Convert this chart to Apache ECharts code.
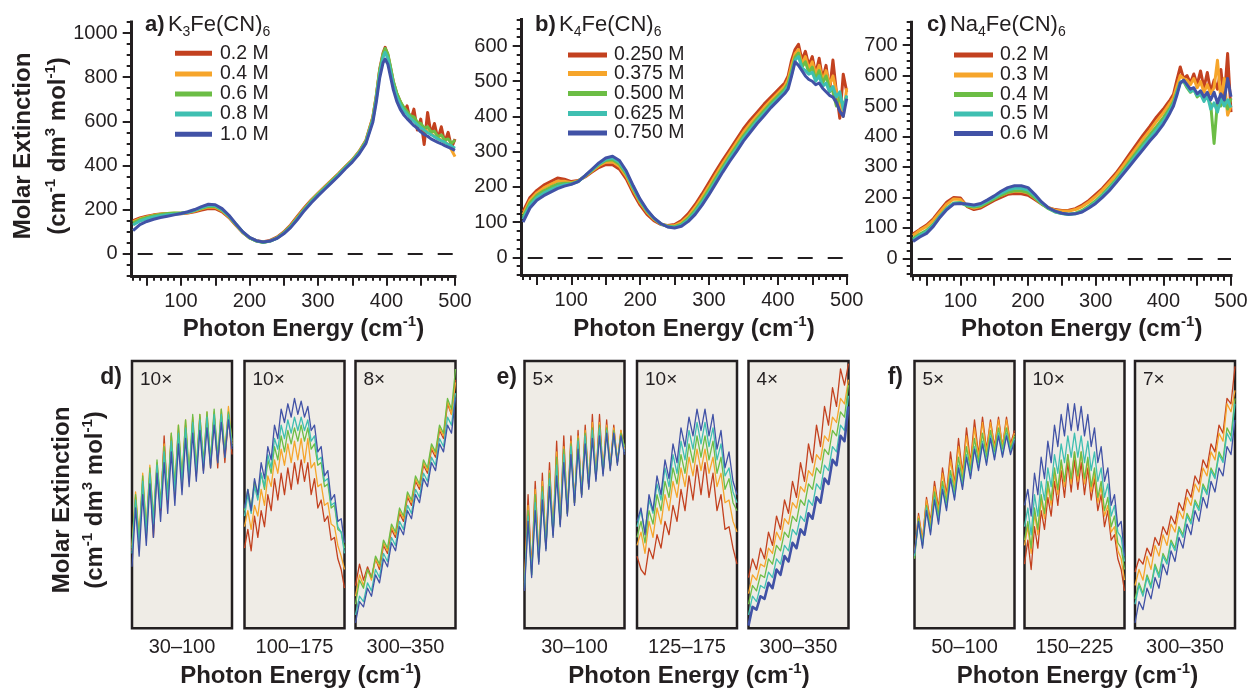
<!DOCTYPE html>
<html>
<head>
<meta charset="utf-8">
<script src="https://cdn.jsdelivr.net/npm/echarts@6/dist/echarts.min.js"></script>
<style>
  html, body { margin: 0; padding: 0; background: #ffffff; }
  #chart { width: 1247px; height: 690px; }
</style>
</head>
<body>
<div id="chart"></div>
<script>
// ---------- Full spectra (molar extinction, cm^-1 dm^3 mol^-1) ----------
const ENERGY_A = [30,40,50,60,70,80,90,100,110,120,130,140,150,160,170,180,190,200,210,220,230,240,250,260,270,280,290,300,310,320,330,340,350,360,370,380,385,390,395,398,402,406,410,415,420,425,430,435,440,445,450,455,460,465,470,475,480,485,490,495,500];
const K3_02 = [150,162,170,176,180,182,182,181,184,190,198,205,204,190,164,129,96,72,59,54,60,75,98,130,170,208,243,274,304,334,363,395,425,463,514,618,715,835,910,935,900,840,778,725,690,640,670,600,655,560,610,495,640,540,590,520,575,505,550,480,520];
const K3_04 = [145,158,166,174,179,182,183,183,186,193,203,211,210,194,167,131,97,72,58,52,58,72,95,126,165,204,240,272,302,332,362,394,424,462,512,615,712,828,900,922,898,838,775,722,688,660,640,618,605,590,575,565,552,545,532,525,515,505,495,470,440];
const K3_06 = [140,155,164,172,178,182,184,184,188,196,206,215,214,197,169,133,98,72,57,51,57,71,94,124,162,202,238,270,300,330,360,392,422,460,510,612,710,830,905,930,905,845,780,728,690,665,645,625,620,595,590,570,575,552,555,530,538,515,520,500,515];
const K3_08 = [130,148,158,166,172,176,179,182,188,197,209,219,218,200,171,134,99,73,58,52,57,70,92,121,158,198,234,266,296,326,356,389,419,456,505,605,700,815,890,912,885,825,765,712,675,650,632,615,600,585,572,560,548,540,530,520,512,505,495,488,478];
const K3_10 = [105,132,146,156,164,170,176,182,190,200,213,224,222,204,174,136,100,74,59,53,57,69,90,118,155,195,230,262,292,322,352,385,415,452,500,595,685,795,865,882,858,800,742,690,655,630,612,596,580,568,552,540,532,520,512,504,498,490,483,476,468];

const ENERGY_BC = [30,40,50,60,70,80,90,100,110,120,130,140,150,160,170,180,190,200,210,220,230,240,250,260,270,280,290,300,310,320,330,340,350,360,370,380,390,400,405,410,415,420,425,430,435,440,445,450,455,460,465,470,475,480,485,490,495,500];
const K4_0250 = [130,170,190,205,215,225,222,215,218,228,242,255,263,263,250,222,182,148,122,104,93,90,93,104,124,150,180,212,245,276,305,335,365,390,412,435,455,475,485,495,515,560,590,605,560,585,545,570,520,565,505,545,470,560,470,395,520,470];
const K4_0375 = [122,162,183,197,207,216,216,212,217,230,245,260,270,271,258,230,190,155,128,108,95,89,90,99,117,142,171,202,235,266,296,326,355,380,403,425,446,466,476,486,505,545,578,590,548,570,535,555,520,545,500,530,490,515,470,440,400,480];
const K4_0500 = [115,155,176,189,199,208,210,210,216,231,247,263,275,277,264,236,195,159,131,110,95,88,87,94,111,134,162,193,225,256,287,316,345,370,394,416,438,458,468,478,495,530,568,580,540,555,525,540,505,530,495,515,480,470,430,455,430,455];
const K4_0625 = [108,148,169,182,192,201,206,208,215,231,248,265,278,282,270,240,199,162,133,111,95,87,85,91,106,128,155,185,217,249,280,308,338,362,387,409,431,451,461,471,486,520,560,570,538,530,520,525,500,515,485,495,470,485,455,470,420,460];
const K4_0750 = [100,140,162,175,185,195,202,207,215,232,250,268,282,287,275,245,203,165,135,112,96,86,83,88,102,122,148,178,210,242,272,300,330,355,380,402,425,445,455,465,478,515,555,545,530,515,505,500,490,495,480,470,460,455,440,415,400,450];

const NA4_02 = [80,95,109,130,158,185,200,198,170,160,165,178,190,200,210,213,212,207,193,178,166,160,157,158,163,175,190,210,230,255,280,310,342,373,404,433,464,490,505,520,538,585,628,590,600,575,605,570,615,560,610,545,585,555,620,520,672,480];
const NA4_03 = [75,92,105,125,152,178,195,193,172,165,170,183,196,207,216,220,220,214,198,180,166,158,155,155,160,170,185,203,224,248,273,302,332,362,392,420,450,478,494,510,528,565,600,590,585,570,590,560,580,545,570,540,560,650,520,590,470,500];
const NA4_04 = [65,80,92,112,140,165,182,183,172,168,172,183,195,207,217,222,222,216,199,179,163,152,147,145,148,157,172,189,210,234,259,288,318,348,377,405,433,462,478,495,514,548,578,580,560,545,555,530,540,520,530,505,377,515,500,525,490,525];
const NA4_05 = [60,75,88,109,138,163,180,182,175,172,176,188,200,213,224,230,230,224,205,182,165,153,147,144,146,154,168,184,205,228,253,281,310,339,367,395,422,451,468,487,507,542,578,582,565,548,552,535,540,515,535,490,510,480,525,500,520,495];
const NA4_06 = [55,70,82,105,135,160,178,180,178,175,180,192,205,220,232,238,238,232,210,185,166,155,148,145,146,152,165,180,200,222,248,275,302,330,357,385,410,440,458,478,500,535,575,585,570,555,560,540,550,530,545,520,545,510,540,520,590,530];

const LABELS_A = ['0.2 M', '0.4 M', '0.6 M', '0.8 M', '1.0 M'];
const LABELS_B = ['0.250 M', '0.375 M', '0.500 M', '0.625 M', '0.750 M'];
const LABELS_C = ['0.2 M', '0.3 M', '0.4 M', '0.5 M', '0.6 M'];

const Y_TICKS_A = [0, 200, 400, 600, 800, 1000];
const Y_TICKS_B = [0, 100, 200, 300, 400, 500, 600];
const Y_TICKS_C = [0, 100, 200, 300, 400, 500, 600, 700];
const X_TICK_LABELS = [100, 200, 300, 400, 500];

// ---------- Magnified windows (relative extinction, vertically stretched) ----------
const E_30_100 = [30,32.5,35,37.5,40,42.5,45,47.5,50,52.5,55,57.5,60,62.5,65,67.5,70,72.5,75,77.5,80,82.5,85,87.5,90,92.5,95,97.5,100];
const E_100_175 = [100,102.5,105,107.5,110,112.5,115,117.5,120,122.5,125,127.5,130,132.5,135,137.5,140,142.5,145,147.5,150,152.5,155,157.5,160,162.5,165,167.5,170,172.5,175];
const E_300_350 = [300,302,304,306,308,310,312,314,316,318,320,322,324,326,328,330,332,334,336,338,340,342,344,346,348,350];
const E_125_175 = [125,127,129,131,133,135,137,139,141,143,145,147,149,151,153,155,157,159,161,163,165,167,169,171,173,175];
const E_50_100 = [50,52,54,56,58,60,62,64,66,68,70,72,74,76,78,80,82,84,86,88,90,92,94,96,98,100];
const E_150_225 = [150,152.5,155,157.5,160,162.5,165,167.5,170,172.5,175,177.5,180,182.5,185,187.5,190,192.5,195,197.5,200,202.5,205,207.5,210,212.5,215,217.5,220,222.5,225];

// d) K3Fe(CN)6
const D1_02 = [29,49,32,55,34,58,34,60,44,72,47,72,50,74,53,76,55,78,57,79,59,79,60,80,60,80,62,79,65];
const D1_04 = [31,51,34,58,37,61,40,62,46,69,49,73,52,76,55,78,57,79,59,80,61,81,62,81,63,82,65,83,69];
const D1_06 = [30,50,33,57,37,60,41,63,47,68,50,73,53,76,56,78,58,80,60,80,62,81,63,82,64,82,66,81,70];
const D1_08 = [28,48,31,55,35,58,39,61,45,66,48,70,51,73,54,75,56,77,58,78,60,79,61,80,62,80,64,80,68];
const D1_10 = [23,45,27,50,31,54,34,58,40,62,43,66,46,69,50,71,53,73,55,74,58,75,60,76,62,77,64,78,67];

const D2_02 = [30,37,29,42,34,44,38,50,44,56,48,58,50,60,52,62,54,63,55,62,50,56,45,48,40,42,33,34,26,22,15];
const D2_04 = [38,44,37,46,42,52,46,57,53,63,58,67,61,69,62,70,63,71,62,71,60,62,53,54,46,47,39,38,31,27,22];
const D2_06 = [44,52,45,55,49,58,52,63,58,68,63,72,66,74,69,75,70,76,70,75,67,69,61,62,53,54,45,46,37,36,30];
const D2_08 = [42,50,43,53,48,58,53,65,60,71,67,76,71,78,73,79,74,79,74,78,70,72,63,64,55,56,46,47,38,36,28];
const D2_10 = [45,52,44,56,50,62,56,68,63,76,71,82,77,84,79,86,80,85,79,83,74,76,66,68,57,59,48,50,40,41,32];

const D3_02 = [16,24,18,23,19,26,22,31,28,37,34,43,40,49,46,55,52,61,58,67,64,74,71,84,80,93];
const D3_04 = [12,20,16,22,18,26,23,32,29,38,35,44,41,50,47,56,53,62,59,68,65,75,72,85,80,92];
const D3_06 = [9,18,15,22,19,27,24,33,30,39,36,45,42,51,48,57,54,63,60,69,66,76,73,86,82,97];
const D3_08 = [5,12,10,17,14,22,19,28,25,34,31,40,37,46,43,52,49,58,55,64,61,71,68,79,76,88];
const D3_10 = [2,10,8,15,12,20,17,26,23,32,29,38,35,44,41,50,47,56,53,62,59,69,66,76,73,86];

// e) K4Fe(CN)6
const E1_0250 = [18,50,22,55,26,58,30,62,35,70,39,72,43,72,47,74,50,76,53,80,56,80,58,78,60,76,62,74,66];
const E1_0375 = [17,46,21,52,25,55,30,59,35,66,39,68,43,70,47,72,50,74,53,77,56,77,58,76,60,75,62,74,67];
const E1_0500 = [16,44,20,50,25,53,30,58,35,64,39,67,43,69,47,71,50,73,53,75,56,76,58,75,60,74,62,73,68];
const E1_0625 = [15,42,20,47,25,51,30,56,35,61,39,65,43,68,47,70,50,72,53,74,56,75,58,74,60,73,62,72,66];
const E1_0750 = [14,40,19,44,24,48,29,53,34,57,38,62,42,65,46,67,49,69,52,71,55,72,57,73,59,73,61,72,65];

const E2_0250 = [27,22,20,30,26,35,30,40,35,46,40,52,44,57,48,61,50,62,49,58,44,50,37,38,30,24];
const E2_0375 = [31,36,28,40,34,45,39,50,44,55,49,60,53,64,57,67,59,67,58,64,53,58,47,48,40,36];
const E2_0500 = [34,40,32,44,39,50,44,55,49,60,54,65,58,69,62,72,64,72,63,70,58,64,52,56,47,44];
const E2_0625 = [38,44,36,48,43,54,48,60,53,65,58,70,63,74,67,77,69,77,68,75,63,69,57,60,51,47];
const E2_0750 = [40,45,35,50,44,57,50,63,56,69,62,75,68,79,72,82,74,82,72,80,67,74,60,66,55,50];

const E3_0250 = [19,26,22,30,26,36,31,42,37,48,43,55,49,62,55,69,62,76,68,83,76,90,83,97,91,99];
const E3_0375 = [13,20,18,24,23,30,28,36,33,41,39,47,45,53,51,59,57,65,63,72,70,79,77,86,84,93];
const E3_0500 = [9,16,14,20,19,26,24,31,29,36,34,42,40,48,46,54,52,60,58,67,65,74,72,81,79,91];
const E3_0625 = [5,12,10,16,15,21,19,26,24,31,29,37,35,42,40,48,46,54,52,61,59,68,66,76,74,87];
const E3_0750 = [1,8,7,12,11,17,15,22,20,27,25,32,30,37,35,43,41,49,47,56,54,63,61,72,70,83];

// f) Na4Fe(CN)6
const F1_02 = [27,43,33,49,40,55,45,60,50,66,54,71,58,75,62,78,65,79,67,78,68,79,68,79,69,74];
const F1_03 = [28,42,33,48,39,53,44,58,49,63,53,68,57,72,61,75,64,77,66,77,67,78,68,78,68,73];
const F1_04 = [26,41,31,46,37,51,42,55,47,59,51,64,55,68,59,71,62,73,64,74,66,75,67,75,67,72];
const F1_05 = [27,40,31,45,36,49,40,53,45,57,49,61,53,65,57,68,60,70,62,72,64,73,65,73,66,71];
const F1_06 = [28,40,30,44,35,48,39,52,44,56,48,60,52,64,56,67,59,69,61,71,63,72,64,72,65,70];

const F2_02 = [24,33,22,38,30,44,37,49,42,55,46,59,49,62,51,63,52,62,50,60,48,56,44,50,38,44,33,35,26,22,14];
const F2_03 = [31,38,28,43,35,48,41,53,46,58,50,62,53,65,54,66,55,66,54,63,51,58,47,53,42,46,36,38,29,26,18];
const F2_04 = [33,40,30,45,37,50,43,55,48,60,52,63,55,65,56,66,57,66,56,64,53,60,49,55,44,49,38,42,32,30,22];
const F2_05 = [38,45,35,50,42,55,48,60,53,65,58,69,62,72,64,73,64,72,62,70,59,66,55,60,49,54,42,46,36,34,25];
const F2_06 = [46,52,42,58,50,64,56,70,62,76,68,80,72,84,74,84,74,83,72,80,68,75,62,68,55,60,46,50,38,40,27];

const F3_02 = [21,26,24,30,27,34,31,38,35,42,39,47,44,52,49,57,54,63,60,69,66,76,73,86,84,98];
const F3_03 = [16,22,18,27,22,31,27,35,31,39,36,44,41,49,46,54,51,60,57,66,63,73,70,84,81,89];
const F3_04 = [11,17,13,20,16,24,20,28,25,33,30,38,35,43,40,48,45,54,51,60,57,66,63,75,72,86];
const F3_05 = [9,16,12,19,15,23,19,27,24,32,29,37,34,42,39,47,44,53,50,59,56,65,62,73,70,84];
const F3_06 = [2,10,7,15,11,19,15,24,20,29,25,34,30,39,35,44,40,49,45,55,51,60,57,68,65,78];

const MAG_LABELS = ['10×', '10×', '8×', '5×', '10×', '4×', '5×', '10×', '7×'];
const RANGE_LABELS = ['30–100', '100–175', '300–350', '30–100', '125–175', '300–350', '50–100', '150–225', '300–350'];

// ---------- Styling ----------
const INK = '#231f20';
const BOX_FILL = '#efece6';
const COLORS = ['#c3411f', '#f6a52b', '#6cbd45', '#3fbfb1', '#4152a6'];
const FONT = "'Liberation Sans', Arial, sans-serif";

const TOP = [
  { left: 131.7, width: 323.3, top: 21.96, height: 253.8, yMin: -100, yMax: 1050, yStep: 50,
    energy: ENERGY_A, series: [K3_02, K3_04, K3_06, K3_08, K3_10], labels: LABELS_A, yTicks: Y_TICKS_A,
    title: ['a)', 'K', '3', 'Fe(CN)', '6'], titleX: 145, xTitle: 303.5,
    legend: { x1: 175, x2: 212, tx: 220, ys: [53.3, 74, 94, 114, 134.3] } },
  { left: 521.7, width: 325, top: 19.6, height: 255.3, yMin: -50, yMax: 675, yStep: 25,
    energy: ENERGY_BC, series: [K4_0250, K4_0375, K4_0500, K4_0625, K4_0750], labels: LABELS_B, yTicks: Y_TICKS_B,
    title: ['b)', 'K', '4', 'Fe(CN)', '6'], titleX: 535, xTitle: 694,
    legend: { x1: 568, x2: 607, tx: 614, ys: [55, 73.5, 93.5, 113.5, 133] } },
  { left: 911.7, width: 319.3, top: 22.2, height: 253.5, yMin: -57, yMax: 775, yStep: 25,
    energy: ENERGY_BC, series: [NA4_02, NA4_03, NA4_04, NA4_05, NA4_06], labels: LABELS_C, yTicks: Y_TICKS_C,
    title: ['c)', 'Na', '4', 'Fe(CN)', '6'], titleX: 927, xTitle: 1081.7,
    legend: { x1: 954, x2: 993, tx: 1000, ys: [55, 75, 94.5, 114, 133.5] } }
];

const ZOOMS = [
  { left: 132, energy: E_30_100, series: [D1_02, D1_04, D1_06, D1_08, D1_10] },
  { left: 244.5, energy: E_100_175, series: [D2_02, D2_04, D2_06, D2_08, D2_10] },
  { left: 355.5, energy: E_300_350, series: [D3_02, D3_04, D3_06, D3_08, D3_10] },
  { left: 524.5, energy: E_30_100, series: [E1_0250, E1_0375, E1_0500, E1_0625, E1_0750] },
  { left: 637, energy: E_125_175, series: [E2_0250, E2_0375, E2_0500, E2_0625, E2_0750] },
  { left: 748.5, energy: E_300_350, series: [E3_0250, E3_0375, E3_0500, E3_0625, E3_0750], thickLast: true },
  { left: 914.5, energy: E_50_100, series: [F1_02, F1_03, F1_04, F1_05, F1_06] },
  { left: 1024.5, energy: E_150_225, series: [F2_02, F2_03, F2_04, F2_05, F2_06] },
  { left: 1135, energy: E_300_350, series: [F3_02, F3_03, F3_04, F3_05, F3_06] }
];
const ZOOM_TOP = 361, ZOOM_H = 267.3, ZOOM_W = 100;

function pairs(xs, ys) { return ys.map((y, i) => [xs[i], y]); }
function stepValues(from, to, step) { const out = []; for (let v = from; v <= to + 1e-9; v += step) out.push(+v.toFixed(3)); return out; }

const grid = [], xAxis = [], yAxis = [], series = [], graphic = [];
const labelStyle = { color: INK, fontSize: 20, fontFamily: FONT, formatter: v => String(v) };

// Full-range panels a-c
TOP.forEach((p, i) => {
  grid.push({ left: p.left, top: p.top, width: p.width, height: p.height, outerBoundsMode: 'none', containLabel: false });
  const xMajor = stepValues(50, 500, 50), xMinor = stepValues(30, 500, 10);
  const yMinor = stepValues(Math.ceil(p.yMin / p.yStep) * p.yStep, p.yMax, p.yStep);
  xAxis.push({ gridIndex: i, type: 'value', min: 28, max: 500, position: 'bottom',
    axisLine: { show: true, onZero: false, lineStyle: { color: INK, width: 3, cap: 'square' } },
    axisTick: { show: true, length: 10, customValues: xMajor, lineStyle: { color: INK, width: 2 } },
    axisLabel: { show: true, customValues: X_TICK_LABELS, margin: 16, ...labelStyle },
    splitLine: { show: false } });
  xAxis.push({ gridIndex: i, type: 'value', min: 28, max: 500, position: 'bottom',
    axisLine: { show: false, onZero: false },
    axisTick: { show: true, length: 5, customValues: xMinor, lineStyle: { color: INK, width: 2 } },
    axisLabel: { show: false }, splitLine: { show: false } });
  yAxis.push({ gridIndex: i, type: 'value', min: p.yMin, max: p.yMax, position: 'left',
    axisLine: { show: true, onZero: false, lineStyle: { color: INK, width: 3, cap: 'square' } },
    axisTick: { show: true, length: 9, customValues: p.yTicks, lineStyle: { color: INK, width: 2 } },
    axisLabel: { show: true, customValues: p.yTicks, margin: 14, ...labelStyle },
    splitLine: { show: false } });
  yAxis.push({ gridIndex: i, type: 'value', min: p.yMin, max: p.yMax, position: 'left',
    axisLine: { show: false, onZero: false },
    axisTick: { show: true, length: 5, customValues: yMinor, lineStyle: { color: INK, width: 2 } },
    axisLabel: { show: false }, splitLine: { show: false } });

  p.series.forEach((ys, k) => {
    const s = { type: 'line', name: p.labels[k], xAxisIndex: 2 * i, yAxisIndex: 2 * i,
      data: pairs(p.energy, ys), showSymbol: false, symbol: 'none', clip: true, animation: false,
      lineStyle: { color: COLORS[k], width: 3, join: 'round' }, itemStyle: { color: COLORS[k] }, z: 3 + k };
    if (k === 0) {
      s.markLine = { silent: true, symbol: ['none', 'none'], label: { show: false }, animation: false,
        lineStyle: { color: INK, width: 2, type: [15, 15], dashOffset: -6 }, data: [{ yAxis: 0 }] };
    }
    series.push(s);
  });

  // panel title with subscripts
  graphic.push({ type: 'text', silent: true, x: p.titleX, y: 25,
    style: { text: `{b|${p.title[0]}} {n|${p.title[1]}}{s|${p.title[2]}}{n|${p.title[3]}}{s|${p.title[4]}}`,
      verticalAlign: 'middle', align: 'left', fill: INK,
      rich: { b: { font: `bold 22px ${FONT}`, fill: INK, lineHeight: 28 },
              n: { font: `22px ${FONT}`, fill: INK, lineHeight: 28 },
              s: { font: `14px ${FONT}`, fill: INK, lineHeight: 14, verticalAlign: 'bottom' } } } });

  // legend
  p.labels.forEach((lab, k) => {
    graphic.push({ type: 'line', silent: true, shape: { x1: p.legend.x1, y1: p.legend.ys[k], x2: p.legend.x2, y2: p.legend.ys[k] },
      style: { stroke: COLORS[k], lineWidth: 5 } });
    graphic.push({ type: 'text', silent: true, x: p.legend.tx, y: p.legend.ys[k],
      style: { text: lab, font: `19.5px ${FONT}`, fill: INK, align: 'left', verticalAlign: 'middle' } });
  });

  // x axis title
  graphic.push(axisTitle(p.xTitle, 329, 0));
});

function axisTitle(x, y, rot) {
  return { type: 'text', silent: true, x, y, rotation: rot,
    style: { text: '{t|Photon Energy (cm}{p|-1}{t|)}', align: 'center', verticalAlign: 'middle', fill: INK,
      rich: { t: { font: `bold 24px ${FONT}`, fill: INK, lineHeight: 30 },
              p: { font: `bold 15px ${FONT}`, fill: INK, lineHeight: 16, verticalAlign: 'top' } } } };
}
function yTitle(x1, x2, y) {
  return [
    { type: 'text', silent: true, x: x1, y, rotation: Math.PI / 2,
      style: { text: 'Molar Extinction', font: `bold 24px ${FONT}`, fill: INK, align: 'center', verticalAlign: 'middle' } },
    { type: 'text', silent: true, x: x2, y, rotation: Math.PI / 2,
      style: { text: '{t|(cm}{p|-1}{t| dm}{p|3}{t| mol}{p|-1}{t|)}', align: 'center', verticalAlign: 'middle', fill: INK,
        rich: { t: { font: `bold 24px ${FONT}`, fill: INK, lineHeight: 30 },
                p: { font: `bold 15px ${FONT}`, fill: INK, lineHeight: 16, verticalAlign: 'top' } } } }
  ];
}
graphic.push(...yTitle(23, 58, 146));
graphic.push(...yTitle(62, 95, 500));

// Magnified panels d-f
ZOOMS.forEach((z, j) => {
  const gi = 3 + j, ai = 6 + j;
  grid.push({ left: z.left, top: ZOOM_TOP, width: ZOOM_W, height: ZOOM_H, show: true,
    backgroundColor: BOX_FILL, borderColor: INK, borderWidth: 2.5, outerBoundsMode: 'none', containLabel: false });
  xAxis.push({ gridIndex: gi, type: 'value', min: z.energy[0], max: z.energy[z.energy.length - 1], show: false });
  yAxis.push({ gridIndex: gi, type: 'value', min: 0, max: 100, show: false });
  z.series.forEach((ys, k) => {
    series.push({ type: 'line', xAxisIndex: ai, yAxisIndex: ai, data: pairs(z.energy, ys),
      showSymbol: false, symbol: 'none', clip: true, animation: false,
      lineStyle: { color: COLORS[k], width: (z.thickLast && k === 4) ? 2.6 : 1.3, join: 'round' }, z: 3 + k });
  });
  graphic.push({ type: 'text', silent: true, x: z.left + 8, y: 380,
    style: { text: MAG_LABELS[j], font: `19px ${FONT}`, fill: INK, align: 'left', verticalAlign: 'middle' } });
  graphic.push({ type: 'text', silent: true, x: z.left + ZOOM_W / 2, y: 647,
    style: { text: RANGE_LABELS[j], font: `20px ${FONT}`, fill: INK, align: 'center', verticalAlign: 'middle' } });
});

[['d)', 122], ['e)', 517], ['f)', 903]].forEach(([t, x]) => {
  graphic.push({ type: 'text', silent: true, x, y: 378,
    style: { text: t, font: `bold 23px ${FONT}`, fill: INK, align: 'right', verticalAlign: 'middle' } });
});
[300.8, 689, 1077.5].forEach(x => graphic.push(axisTitle(x, 676, 0)));

const chart = echarts.init(document.getElementById('chart'), null, { renderer: 'canvas' });
chart.setOption({
  backgroundColor: '#ffffff',
  animation: false,
  grid, xAxis, yAxis, series,
  graphic: { elements: graphic }
});
</script>
</body>
</html>
